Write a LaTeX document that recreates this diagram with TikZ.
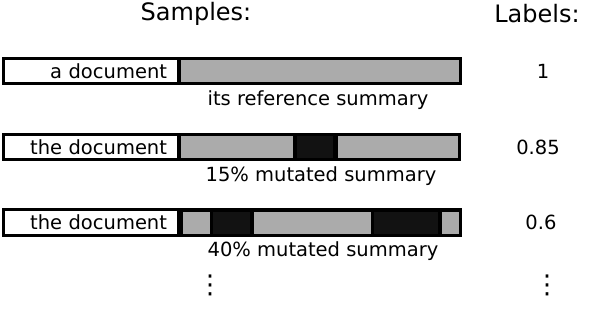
\documentclass[tikz,border=0pt]{standalone}
\usepackage{fontspec}
\setmainfont{DejaVu Sans}
\usetikzlibrary{positioning}

\begin{document}
\begin{tikzpicture}[
  x=1pt, y=-1pt,
  bar/.style={fill=black, inner sep=0pt, minimum height=28pt},
  docbox/.style={draw=black, fill=white, line width=3pt, inner xsep=11pt, inner ysep=0pt,
                 text width=153pt, align=right, minimum height=25pt, font=\fontsize{19.5}{22}\selectfont},
  seg/.style={fill=black!33, inner sep=0pt, minimum height=22pt},
  mut/.style={fill=black!93, inner sep=0pt, minimum height=22pt},
  head/.style={font=\fontsize{24}{28}\selectfont, inner sep=0pt},
  txt/.style={font=\fontsize{19.5}{22}\selectfont, inner sep=0pt},
  more/.style={font=\fontsize{26}{28}\selectfont, inner sep=0pt}
]
\useasboundingbox (0,0) rectangle (608,330);

% Headers
\node[head] (samples) at (196,14) {Samples:};
\node[head] (labels) at (537,14) {Labels:};

% Reference sample
\node[bar, minimum width=460pt] (bar1) at (232,71) {};
\node[docbox] (doc1) at (90.5,71) {a document};
\node[seg, minimum width=278pt] (s11) at (320,71) {};
\node[txt] (sum1) at (318,100) {its reference summary};
\node[txt] (lab1) at (543,71) {1};

% 15% mutated sample
\node[bar, minimum width=459pt] (bar2) at (231.5,147) {};
\node[docbox] (doc2) at (90.5,147) {the document};
\node[seg, minimum width=112pt] (s21) at (237,147) {};
\node[mut, minimum width=36pt] (m21) at (315,147) {};
\node[seg, minimum width=120pt] (s22) at (398,147) {};
\node[txt] (sum2) at (321,176) {15\% mutated summary};
\node[txt] (lab2) at (538,147) {0.85};

% 40% mutated sample
\node[bar, minimum width=460pt, minimum height=29pt] (bar3) at (232,222.5) {};
\node[docbox, minimum height=26pt] (doc3) at (90.5,222.5) {the document};
\node[seg, minimum width=27pt] (s31) at (196.5,222.5) {};
\node[mut, minimum width=37pt] (m31) at (231.5,222.5) {};
\node[seg, minimum width=117pt] (s32) at (312.5,222.5) {};
\node[mut, minimum width=64pt] (m32) at (406,222.5) {};
\node[seg, minimum width=17pt] (s33) at (450.5,222.5) {};
\node[txt] (sum3) at (323,251) {40\% mutated summary};
\node[txt] (lab3) at (541,222.5) {0.6};

% More samples
\node[more] (more1) at (210,285) {⋮};
\node[more] (more2) at (547,285) {⋮};

\end{tikzpicture}
\end{document}
